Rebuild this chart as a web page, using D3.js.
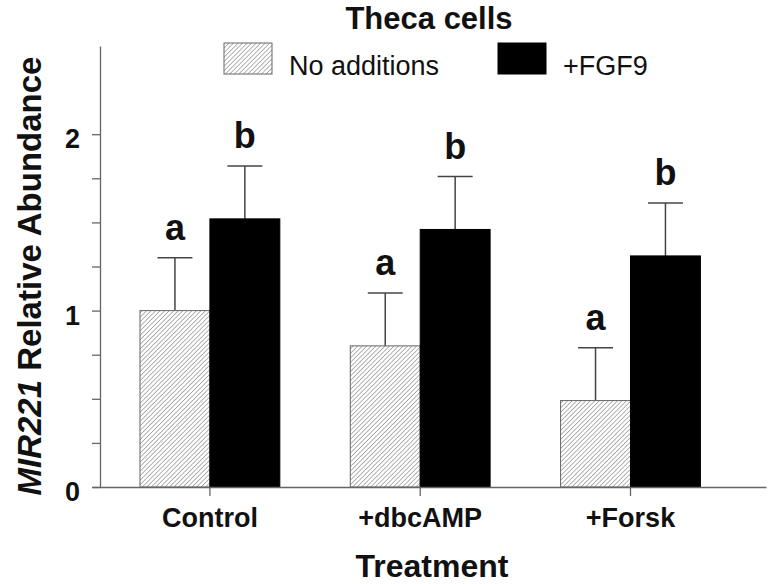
<!DOCTYPE html>
<html>
<head>
<meta charset="utf-8">
<script src="https://cdn.jsdelivr.net/npm/d3@7"></script>
<style>
  html, body { margin: 0; padding: 0; background: #fff; }
  svg { display: block; }
  text { font-family: "Liberation Sans", Arial, Helvetica, sans-serif; fill: #111; }
</style>
</head>
<body>
<svg id="chart" width="772" height="584"></svg>
<script>
const categories = ["Control", "+dbcAMP", "+Forsk"];
const seriesNames = ["No additions", "+FGF9"];
const noAdditions = [1.00, 0.80, 0.49];
const noAdditionsErr = [0.30, 0.30, 0.30];
const fgf9 = [1.52, 1.46, 1.31];
const fgf9Err = [0.30, 0.30, 0.30];
const letters = [["a", "b"], ["a", "b"], ["a", "b"]];
const yTickValues = [0, 0.25, 0.5, 0.75, 1, 1.25, 1.5, 1.75, 2];
const yTickLabels = [0, 1, 2];
const yMax = 2.5;

const svg = d3.select("#chart");
const defs = svg.append("defs");
const pat = defs.append("pattern")
  .attr("id", "hatch")
  .attr("patternUnits", "userSpaceOnUse")
  .attr("width", 3.2).attr("height", 3.2)
  .attr("patternTransform", "rotate(45)");
pat.append("rect").attr("width", 3.2).attr("height", 3.2).attr("fill", "#fff");
pat.append("line").attr("x1", 0).attr("y1", 0).attr("x2", 0).attr("y2", 3.2)
  .attr("stroke", "#8a8a8a").attr("stroke-width", 1.3);

const fills = ["url(#hatch)", "#000"];
const strokes = ["#666", "#000"];

const y = d3.scaleLinear().domain([0, yMax]).range([487, 46]);
const x = d3.scaleBand().domain(categories).range([92, 766])
  .paddingInner(0.335).paddingOuter(0.27).align(0.4225);
const xs = d3.scaleBand().domain(seriesNames).range([0, x.bandwidth()]);

const data = categories.map((c, i) => ({
  cat: c,
  vals: [
    { s: seriesNames[0], v: noAdditions[i], e: noAdditionsErr[i], l: letters[i][0], k: 0 },
    { s: seriesNames[1], v: fgf9[i], e: fgf9Err[i], l: letters[i][1], k: 1 }
  ]
}));

const groups = svg.append("g").selectAll("g").data(data).join("g")
  .attr("transform", d => `translate(${x(d.cat)},0)`);

groups.selectAll("g.err").data(d => d.vals).join("g").attr("class", "err").each(function(d) {
  const g = d3.select(this);
  const cx = xs(d.s) + xs.bandwidth() / 2;
  const capW = xs.bandwidth() / 2;
  g.append("line").attr("x1", cx).attr("x2", cx)
    .attr("y1", y(d.v)).attr("y2", y(d.v + d.e))
    .attr("stroke", "#444").attr("stroke-width", 1.5);
  g.append("line").attr("x1", cx - capW / 2).attr("x2", cx + capW / 2)
    .attr("y1", y(d.v + d.e)).attr("y2", y(d.v + d.e))
    .attr("stroke", "#444").attr("stroke-width", 1.5);
  g.append("text").attr("x", cx).attr("y", y(d.v + d.e) - 18)
    .attr("text-anchor", "middle")
    .attr("font-size", 36).attr("font-weight", "bold")
    .text(d.l);
});

groups.selectAll("rect").data(d => d.vals).join("rect")
  .attr("x", d => xs(d.s))
  .attr("y", d => y(d.v))
  .attr("width", xs.bandwidth())
  .attr("height", d => y(0) - y(d.v))
  .attr("fill", d => fills[d.k])
  .attr("stroke", d => strokes[d.k])
  .attr("stroke-width", 1);

const yAxis = svg.append("g").attr("transform", "translate(100,0)")
  .call(d3.axisLeft(y).tickValues(yTickValues).tickSize(8).tickSizeOuter(0).tickPadding(12)
    .tickFormat(v => yTickLabels.includes(v) ? d3.format("d")(v) : ""));
yAxis.select(".domain").attr("stroke", "#666").attr("stroke-width", 1.3);
yAxis.selectAll(".tick line").attr("stroke", "#666").attr("stroke-width", 1.3);
yAxis.selectAll(".tick text")
  .attr("font-size", 27).attr("font-weight", "bold")
  .attr("font-family", "'Liberation Sans', Arial, sans-serif")
  .attr("fill", "#111").attr("dy", "0.5em");

const xAxis = svg.append("g").attr("transform", `translate(0,${y(0)})`)
  .call(d3.axisBottom(x).tickSize(9).tickSizeOuter(0).tickPadding(12));
xAxis.select(".domain").attr("stroke", "#666").attr("stroke-width", 1.3);
xAxis.selectAll(".tick line").attr("stroke", "#666").attr("stroke-width", 1.3);
xAxis.selectAll(".tick text")
  .attr("font-size", 27).attr("font-weight", "bold")
  .attr("font-family", "'Liberation Sans', Arial, sans-serif")
  .attr("fill", "#111");

svg.append("text").attr("x", 429).attr("y", 29).attr("text-anchor", "middle")
  .attr("font-size", 31).attr("font-weight", "bold").text("Theca cells");

const legendX = [224, 498];
seriesNames.forEach((s, i) => {
  svg.append("rect").attr("x", legendX[i]).attr("y", 43).attr("width", 48).attr("height", 31)
    .attr("fill", fills[i]).attr("stroke", strokes[i]).attr("stroke-width", 1);
  svg.append("text").attr("x", legendX[i] + 65).attr("y", 75)
    .attr("font-size", 27).text(s);
});

svg.append("text").attr("x", 432).attr("y", 577).attr("text-anchor", "middle")
  .attr("font-size", 32).attr("font-weight", "bold").text("Treatment");

const yl = svg.append("text")
  .attr("transform", "translate(41,276) rotate(-90)")
  .attr("text-anchor", "middle")
  .attr("font-size", 33).attr("font-weight", "bold");
yl.append("tspan").attr("font-style", "italic").text("MIR221");
yl.append("tspan").text(" Relative Abundance");
</script>
</body>
</html>
